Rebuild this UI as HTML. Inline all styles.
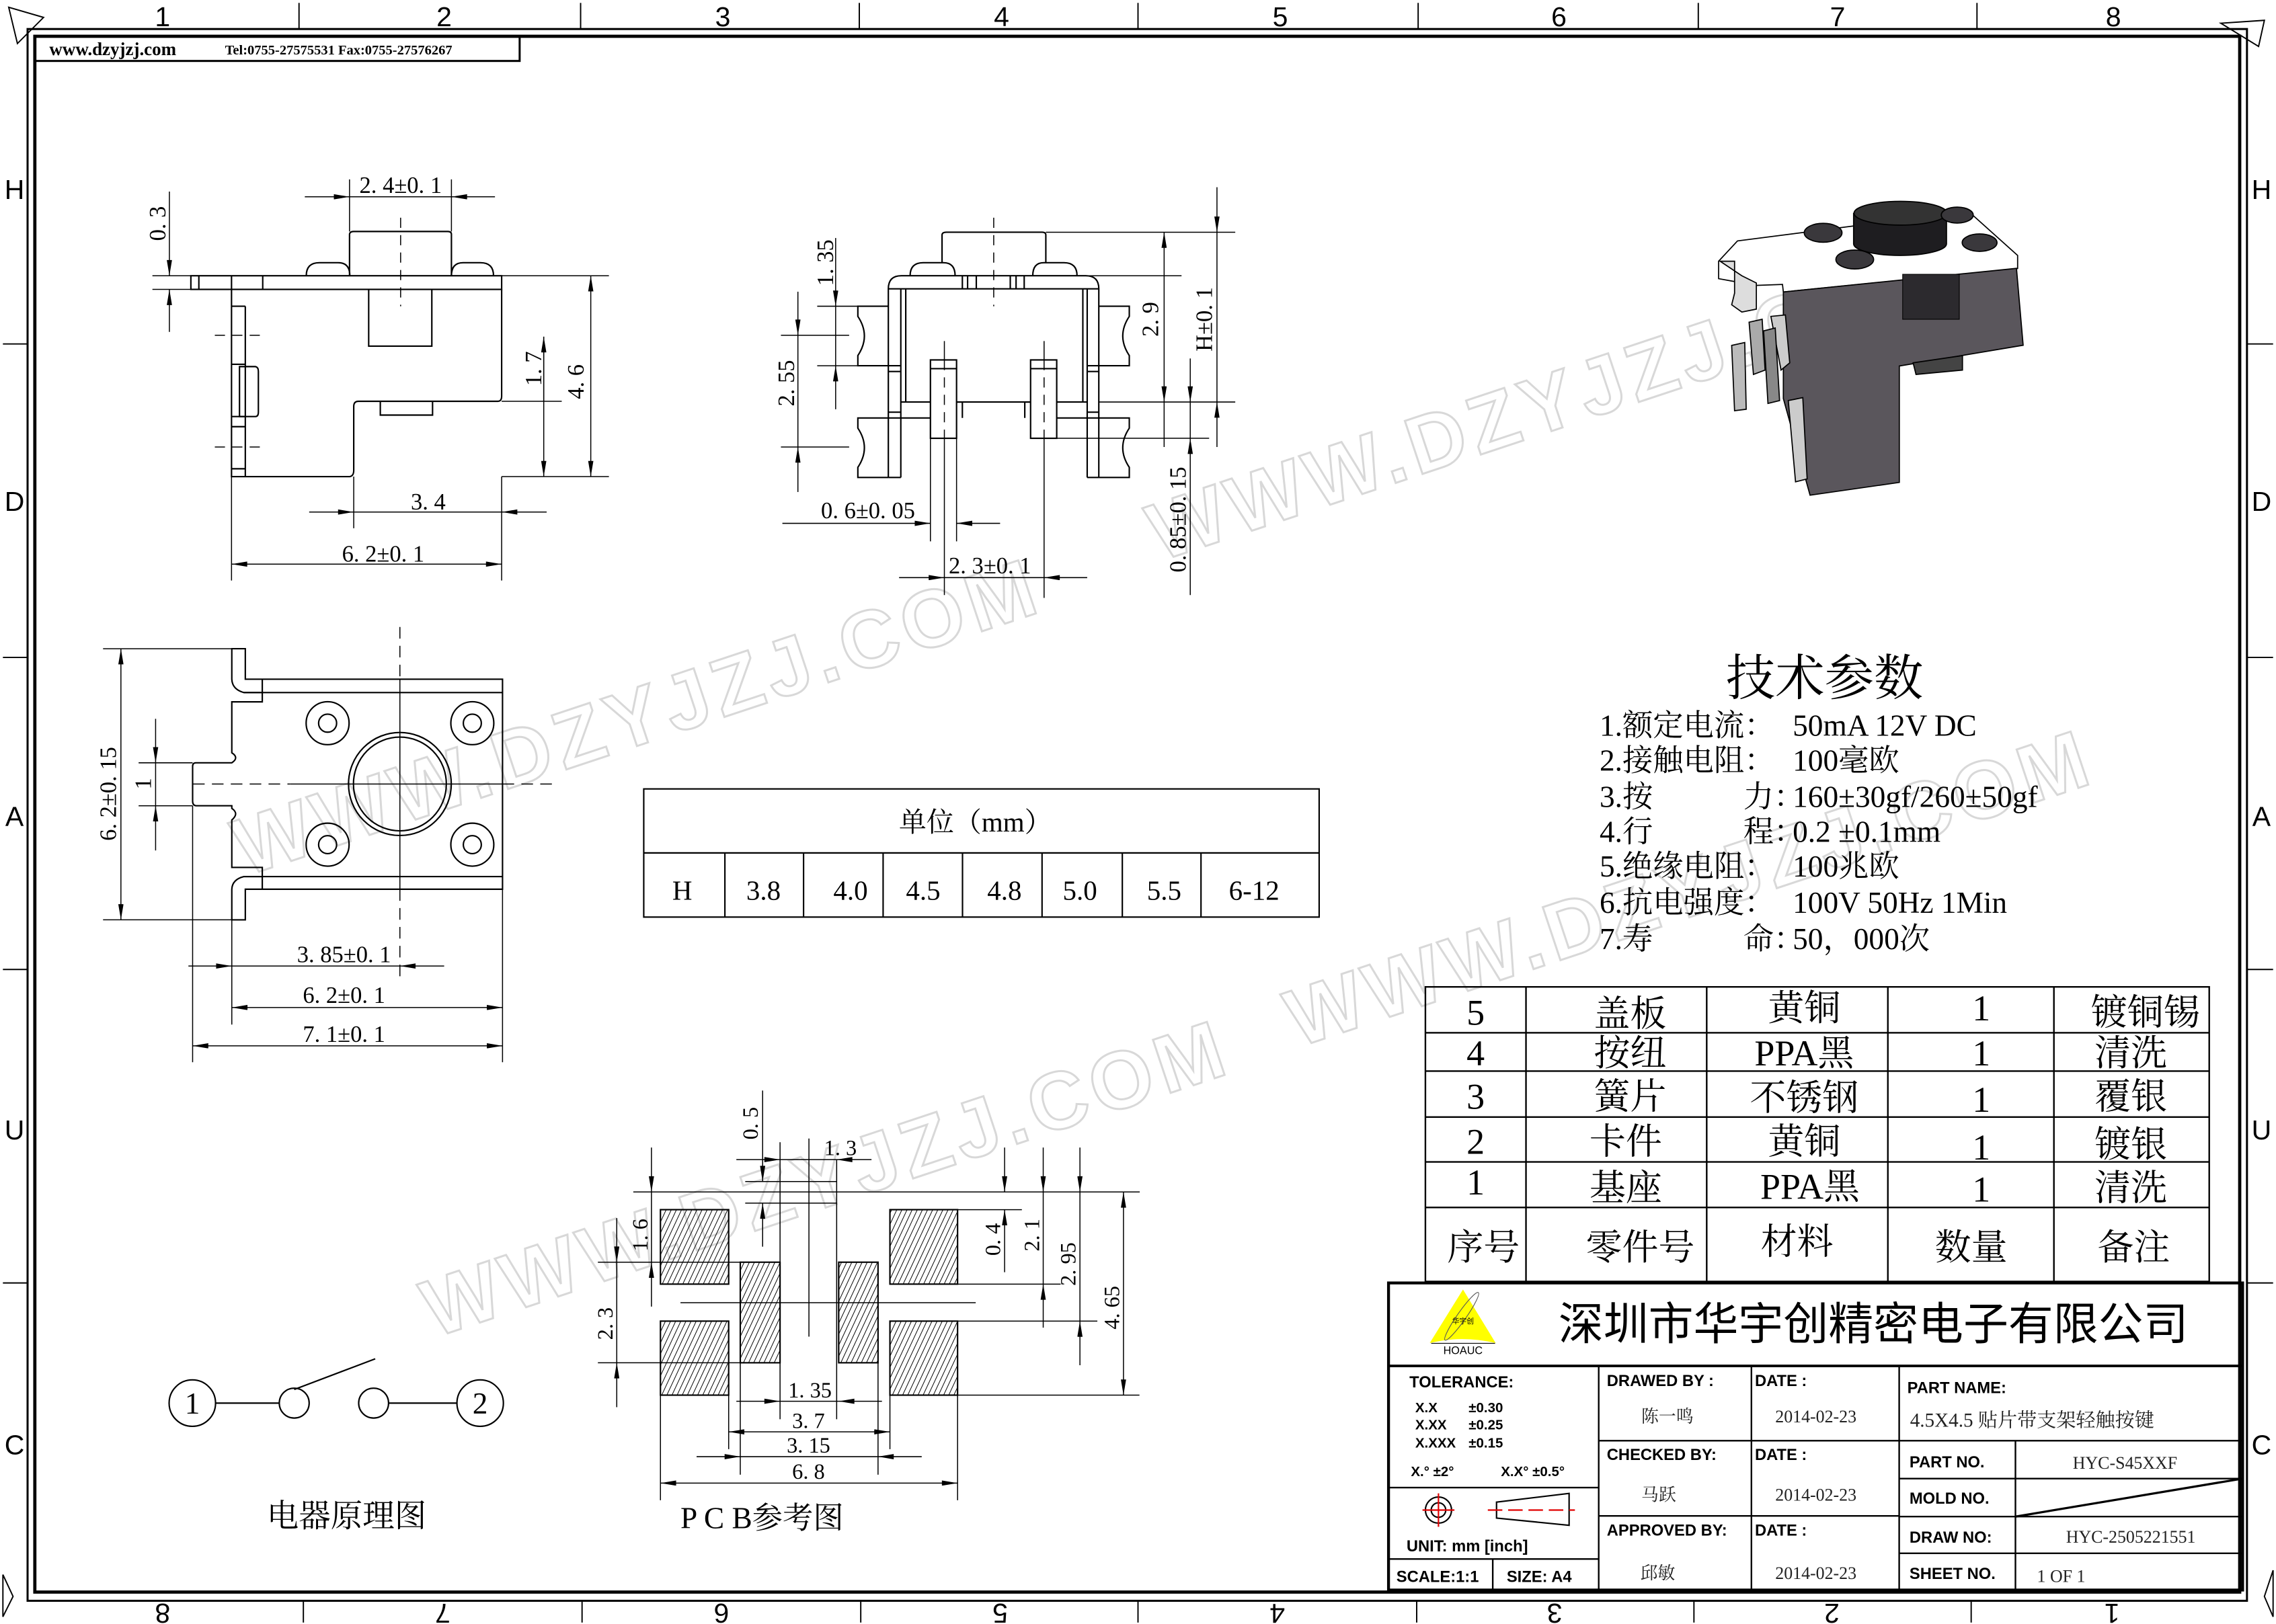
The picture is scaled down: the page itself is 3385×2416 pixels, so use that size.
<!DOCTYPE html>
<html><head><meta charset="utf-8"><style>
html,body{margin:0;padding:0;background:#fff;}
svg{display:block;}
.s{font-family:"Liberation Serif","Noto Serif CJK SC",serif;}
.a{font-family:"Liberation Sans","Noto Sans CJK SC",sans-serif;}
</style></head><body>
<svg width="3385" height="2416" viewBox="0 0 1568 1119" preserveAspectRatio="none" xmlns="http://www.w3.org/2000/svg">
<defs>
<marker id="ar" viewBox="0 0 12 4" refX="12" refY="2" markerWidth="12" markerHeight="3.6" markerUnits="userSpaceOnUse" orient="auto-start-reverse"><path d="M0,0 L12,2 L0,4 z" fill="#000"/></marker>
<pattern id="ht" patternUnits="userSpaceOnUse" width="3.2" height="3.2" patternTransform="rotate(25)"><line x1="0" y1="0" x2="0" y2="3.2" stroke="#000" stroke-width="0.9"/></pattern>
</defs>
<rect width="1568" height="1119" fill="#fff"/>

<!-- watermarks -->
<g class="a" font-size="56" font-weight="bold" fill="none" stroke="#d8d8d8" stroke-width="1.4" letter-spacing="4" text-anchor="middle">
<text transform="translate(445,512) rotate(-18.4)">WWW.DZYJZJ.COM</text>
<text transform="translate(1170,630) rotate(-18.4)">WWW.DZYJZJ.COM</text>
<text transform="translate(1075,295) rotate(-18.4)">WWW.DZYJZJ.COM</text>
<text transform="translate(575,830) rotate(-18.4)">WWW.DZYJZJ.COM</text>
</g>

<!-- frame -->
<g fill="none" stroke="#000">
<rect x="19" y="20" width="1529" height="1083" stroke-width="1.4"/>
<rect x="24" y="25" width="1519" height="1072" stroke-width="2.2"/>
</g>
<g stroke="#000" stroke-width="0.9">
<line x1="206" y1="2" x2="206" y2="20"/><line x1="400" y1="2" x2="400" y2="20"/><line x1="592" y1="2" x2="592" y2="20"/><line x1="784" y1="2" x2="784" y2="20"/><line x1="977" y1="2" x2="977" y2="20"/><line x1="1170" y1="2" x2="1170" y2="20"/><line x1="1362" y1="2" x2="1362" y2="20"/>
<line x1="209" y1="1103" x2="209" y2="1118"/><line x1="401" y1="1103" x2="401" y2="1118"/><line x1="593" y1="1103" x2="593" y2="1118"/><line x1="784" y1="1103" x2="784" y2="1118"/><line x1="976" y1="1103" x2="976" y2="1118"/><line x1="1167" y1="1103" x2="1167" y2="1118"/><line x1="1358" y1="1103" x2="1358" y2="1118"/>
<line x1="2" y1="237" x2="19" y2="237"/><line x1="2" y1="453" x2="19" y2="453"/><line x1="2" y1="668" x2="19" y2="668"/><line x1="2" y1="884" x2="19" y2="884"/>
<line x1="1548" y1="237" x2="1566" y2="237"/><line x1="1548" y1="453" x2="1566" y2="453"/><line x1="1548" y1="668" x2="1566" y2="668"/><line x1="1548" y1="884" x2="1566" y2="884"/>
</g>
<g fill="none" stroke="#000" stroke-width="0.9">
<path d="M6,5 L30,12 L12,30 z"/><path d="M1530,16 L1560,14 L1556,32 z"/>
<path d="M2,1085 L9,1100 L2,1114 z"/><path d="M1566,1082 L1560,1100 L1566,1114 z"/>
</g>
<g class="a" font-size="19" text-anchor="middle">
<text x="112" y="18">1</text><text x="306" y="18">2</text><text x="498" y="18">3</text><text x="690" y="18">4</text><text x="882" y="18">5</text><text x="1074" y="18">6</text><text x="1266" y="18">7</text><text x="1456" y="18">8</text>
<text transform="translate(112,1105) rotate(180)">8</text><text transform="translate(305,1105) rotate(180)">7</text><text transform="translate(497,1105) rotate(180)">6</text><text transform="translate(689,1105) rotate(180)">5</text><text transform="translate(880,1105) rotate(180)">4</text><text transform="translate(1071,1105) rotate(180)">3</text><text transform="translate(1262,1105) rotate(180)">2</text><text transform="translate(1455,1105) rotate(180)">1</text>
<text x="10" y="137">H</text><text x="10" y="352">D</text><text x="10" y="569">A</text><text x="10" y="785">U</text><text x="10" y="1002">C</text>
<text x="1558" y="137">H</text><text x="1558" y="352">D</text><text x="1558" y="569">A</text><text x="1558" y="785">U</text><text x="1558" y="1002">C</text>
</g>

<!-- header -->
<rect x="24" y="25" width="334" height="17" fill="none" stroke="#000" stroke-width="1.4"/>
<text x="34" y="38" class="s" font-size="12.5" font-weight="bold">www.dzyjzj.com</text>
<text x="155" y="37.5" class="s" font-size="9.5" font-weight="bold">Tel:0755-27575531  Fax:0755-27576267</text>

<!-- DRAWING 1 side view -->
<g fill="none" stroke="#000" stroke-width="1">
<rect x="131.5" y="190" width="214.1" height="9.4"/>
<line x1="137" y1="190" x2="137" y2="199.4"/><line x1="159.5" y1="190" x2="159.5" y2="199.4"/><line x1="181" y1="190" x2="181" y2="199.4"/>
<path d="M240.8,190 V161.5 Q241,159.5 243.5,159.5 H308.5 Q311,159.5 311,161.5 V190"/>
<path d="M211,190 Q211,181 220,181 H233 Q241,181 241,190 M311,190 Q311,181 319,181 H331 Q340,181 340,190"/>
<path d="M254,199.4 V238.5 H297.5 V199.4"/>
<path d="M159.5,199.4 V328.4 H241 Q243.7,328 243.7,324 V280 Q243.7,276.5 247,276.5 H343 Q345.6,276.5 345.6,273 V199.4"/>
<line x1="169" y1="211" x2="169" y2="328.4"/>
<path d="M159.5,211 H169 M159.5,251 H169 M159.5,287 H169 M159.5,294 H169 M159.5,323 H169"/>
<path d="M165,252.6 H176 Q178,253 178,256 V284 Q178,287 176,287 H165 z"/>
<path d="M262,276.5 V286 H298 V276.5"/>
</g>
<g stroke="#000" stroke-width="0.7" fill="none">
<path d="M148,231 H182 M148,308 H182 M276,150 V211" stroke-dasharray="7,5"/>
<path d="M105,190 H131.5 M105,199.4 H131.5 M345.6,190 H419.5 M345.6,328.4 H419.5 M345.6,276.5 H387 M240.8,123.6 V159.5 M311,123.6 V159.5 M159.5,328.4 V400 M345.6,328.4 V400 M243.7,328.4 V364"/>
<line x1="210" y1="135.6" x2="240.8" y2="135.6" marker-end="url(#ar)"/><line x1="341" y1="135.6" x2="311" y2="135.6" marker-end="url(#ar)"/><line x1="240.8" y1="135.6" x2="311" y2="135.6"/>
<line x1="116.7" y1="132" x2="116.7" y2="190" marker-end="url(#ar)"/><line x1="116.7" y1="228.7" x2="116.7" y2="199.4" marker-end="url(#ar)"/>
<line x1="374.6" y1="232" x2="374.6" y2="328.4" marker-start="url(#ar)" marker-end="url(#ar)"/>
<line x1="374.6" y1="276.5" x2="374.6" y2="232"/>
<line x1="407" y1="190" x2="407" y2="328.4" marker-start="url(#ar)" marker-end="url(#ar)"/>
<line x1="213" y1="352.8" x2="243.7" y2="352.8" marker-end="url(#ar)"/><line x1="376.6" y1="352.8" x2="345.6" y2="352.8" marker-end="url(#ar)"/><line x1="243.7" y1="352.8" x2="345.6" y2="352.8"/>
<line x1="159.5" y1="388.7" x2="345.6" y2="388.7" marker-start="url(#ar)" marker-end="url(#ar)"/>
</g>
<g class="s" font-size="16" text-anchor="middle">
<text x="276" y="133">2. 4±0. 1</text>
<text transform="translate(114,154) rotate(-90)">0. 3</text>
<text transform="translate(373,254) rotate(-90)">1. 7</text>
<text transform="translate(402,263) rotate(-90)">4. 6</text>
<text x="295" y="351">3. 4</text>
<text x="264" y="387">6. 2±0. 1</text>
</g>

<!-- DRAWING 2 front view -->
<g fill="none" stroke="#000" stroke-width="1">
<path d="M649,181 V162 Q649,160 652,160 H718 Q720.5,160 720.5,162 V181"/>
<path d="M627,190 Q627,181 636,181 H650 Q658,181 658,190 M711.5,190 Q711.5,181 719,181 H733 Q742,181 742,190"/>
<path d="M612,329 V199 Q612,190 621,190 H748 Q757,190 757,199 V329"/>
<line x1="612" y1="199" x2="757" y2="199"/>
<path d="M663,190 V199 M666.6,190 V199 M672.6,190 V199 M696,190 V199 M700,190 V199 M705.6,190 V199"/>
<path d="M620.6,199 V329 M624,199 V277 M746,199 V277 M749,199 V329"/>
<path d="M620.6,277 H749 M612,288 H641 M728,288 H757 M612,329 H620.6 M749,329 H757 M612,252 H620.6 M612,256 H620.6 M749,252 H757 M749,256 H757 M612,284 H620.6 M749,284 H757"/>
<path d="M612,211 H591 V218 Q600,231.5 591,245 V252 H612 M612,288 H591 V295 Q600,308.5 591,322 V329 H612"/>
<path d="M757,211 H778 V218 Q769,231.5 778,245 V252 H757 M757,288 H778 V295 Q769,308.5 778,322 V329 H757"/>
<rect x="641" y="248" width="18" height="54" fill="#fff"/><rect x="710" y="248" width="18" height="54" fill="#fff"/>
<path d="M641,254 H659 M710,254 H728 M659,277 H663 V288 M710,277 H706 V288"/>
</g>
<g stroke="#000" stroke-width="0.7" fill="none">
<path d="M684.6,150 V211 M650.6,248 V302 M719.3,248 V302" stroke-dasharray="7,5"/>
<path d="M650.6,235 V248 M650.6,302 V410 M719.3,235 V248 M719.3,302 V412 M641,302 V373 M659,302 V373"/>
<path d="M563,211 H612 M563,252 H612 M538,231 H585 M538,308 H585 M720.5,160 H851 M742,190 H814 M757,277 H851 M728,302 H833"/>
<line x1="575.7" y1="164" x2="575.7" y2="211" marker-end="url(#ar)"/><line x1="575.7" y1="282" x2="575.7" y2="252" marker-end="url(#ar)"/><line x1="575.7" y1="211" x2="575.7" y2="252"/>
<line x1="549.7" y1="201" x2="549.7" y2="231" marker-end="url(#ar)"/><line x1="549.7" y1="339" x2="549.7" y2="308" marker-end="url(#ar)"/><line x1="549.7" y1="231" x2="549.7" y2="308"/>
<line x1="802" y1="160" x2="802" y2="277" marker-start="url(#ar)" marker-end="url(#ar)"/><line x1="802" y1="277" x2="802" y2="308"/>
<line x1="838.4" y1="129" x2="838.4" y2="160" marker-end="url(#ar)"/><line x1="838.4" y1="308" x2="838.4" y2="277" marker-end="url(#ar)"/><line x1="838.4" y1="160" x2="838.4" y2="277"/>
<line x1="820" y1="247" x2="820" y2="277" marker-end="url(#ar)"/><line x1="820" y1="410" x2="820" y2="302" marker-end="url(#ar)"/><line x1="820" y1="277" x2="820" y2="302"/>
<line x1="539" y1="360.6" x2="641" y2="360.6" marker-end="url(#ar)"/><line x1="689" y1="360.6" x2="659" y2="360.6" marker-end="url(#ar)"/>
<line x1="619.4" y1="398" x2="650.6" y2="398" marker-end="url(#ar)"/><line x1="749" y1="398" x2="719.3" y2="398" marker-end="url(#ar)"/><line x1="650.6" y1="398" x2="719.3" y2="398"/>
</g>
<g class="s" font-size="16" text-anchor="middle">
<text transform="translate(574,181) rotate(-90)">1. 35</text>
<text transform="translate(547,264) rotate(-90)">2. 55</text>
<text transform="translate(798,220) rotate(-90)">2. 9</text>
<text transform="translate(835,220) rotate(-90)">H±0. 1</text>
<text transform="translate(817,358) rotate(-90)">0. 85±0. 15</text>
<text x="598" y="357">0. 6±0. 05</text>
<text x="682" y="395">2. 3±0. 1</text>
</g>

<!-- 3D picture -->
<g stroke="#000" stroke-width="0.8">
<path d="M1184,180 L1197,166 L1356,145.5 L1390,176 L1390,185 L1228.6,201.2 L1228,196 L1200,197 L1195,194 L1184,192 z" fill="#fff"/>
<path d="M1228.6,201.2 L1389.2,184.9 L1393.8,237.9 L1308.5,252.2 L1308.5,332.4 L1247,341.2 L1228.6,274.6 z" fill="#5a565c"/>
<rect x="1310.8" y="189" width="39" height="31" fill="#2c2a2e" stroke-width="0.5"/>
<path d="M1277,147 V168 A32,8 0 0 0 1341,168 V147 z" fill="#1e1d20"/>
<ellipse cx="1309.3" cy="146.9" rx="32" ry="8.2" fill="#333"/>
<ellipse cx="1256" cy="160.4" rx="13" ry="6.5" fill="#3a383c"/>
<ellipse cx="1277.8" cy="178.8" rx="13" ry="6.5" fill="#3a383c"/>
<ellipse cx="1348.4" cy="148.2" rx="11" ry="5.5" fill="#3a383c"/>
<ellipse cx="1363.8" cy="167.2" rx="12" ry="6" fill="#3a383c"/>
<path d="M1185,180 L1195,180 L1195,202 L1193,210 L1200,215 L1210,213 L1210,195 L1200,190 z" fill="#ddd"/>
<path d="M1205,222 L1214,220 L1216,255 L1208,258 z" fill="#aaa"/>
<path d="M1193,238 L1202,236 L1203,282 L1195,283 z" fill="#bbb"/>
<path d="M1220,218 L1230,217 L1233,250 L1227,255 z" fill="#ccc"/>
<path d="M1215,228 L1223,226 L1226,276 L1218,278 z" fill="#888"/>
<path d="M1232,276 L1242,274 L1245,330 L1237,332 z" fill="#ccc"/>
<path d="M1318,250 L1352,245 L1352,255 L1320,258 z" fill="#444"/>
</g>

<!-- DRAWING 3 bottom view -->
<g fill="none" stroke="#000" stroke-width="1">
<path d="M159.7,447 H169 V468 H346.2 V612.7 H169 V633.8 H159.7 V612.7 Q160,606 168,604 H180.7 V597.7 H159.7 V565 Q165,560.6 159.7,557 V555.2 H135 Q132.7,555 132.7,552 V528 Q132.7,525.6 135,525.6 H159.7 Q165,522 159.7,518.7 V483.6 H180.7 V477.2 H168 Q160,475 159.7,468 z"/>
<path d="M168,477.2 H346.2 M168,604 H346.2 M180.7,468 V477.2 M180.7,604 V612.7"/>
<ellipse cx="275.5" cy="540.2" rx="35.4" ry="35.5"/>
<ellipse cx="275.5" cy="540.2" rx="32" ry="32.3"/>
<circle cx="225.7" cy="498.3" r="14.8"/><circle cx="225.7" cy="498.3" r="6.2"/>
<circle cx="325.4" cy="498.3" r="14.8"/><circle cx="325.4" cy="498.3" r="6.2"/>
<circle cx="225.7" cy="582" r="14.8"/><circle cx="225.7" cy="582" r="6.2"/>
<circle cx="325.4" cy="582" r="14.8"/><circle cx="325.4" cy="582" r="6.2"/>
</g>
<g stroke="#000" stroke-width="0.7" fill="none">
<path d="M133,540.2 H200 M346.2,540.2 H383.4 M275.5,432 V468 M275.5,612.7 V677.6" stroke-dasharray="8,5"/>
<path d="M200,540.2 H346.2 M275.5,468 V612.7"/>
<path d="M71,447 H159.7 M71,633.8 H159.7 M95.5,525.6 H132.7 M95.5,555.2 H132.7 M132.7,555.2 V731.9 M159.7,633.8 V706 M346.2,612.7 V731.9"/>
<line x1="83.3" y1="447" x2="83.3" y2="633.8" marker-start="url(#ar)" marker-end="url(#ar)"/>
<line x1="107.2" y1="495.3" x2="107.2" y2="525.6" marker-end="url(#ar)"/><line x1="107.2" y1="586" x2="107.2" y2="555.2" marker-end="url(#ar)"/><line x1="107.2" y1="525.6" x2="107.2" y2="555.2"/>
<line x1="129.8" y1="665.6" x2="159.7" y2="665.6" marker-end="url(#ar)"/><line x1="306" y1="665.6" x2="275.5" y2="665.6" marker-end="url(#ar)"/><line x1="159.7" y1="665.6" x2="275.5" y2="665.6"/>
<line x1="159.7" y1="694.2" x2="346.2" y2="694.2" marker-start="url(#ar)" marker-end="url(#ar)"/>
<line x1="132.7" y1="720.6" x2="346.2" y2="720.6" marker-start="url(#ar)" marker-end="url(#ar)"/>
</g>
<g class="s" font-size="16" text-anchor="middle">
<text transform="translate(80,547) rotate(-90)">6. 2±0. 15</text>
<text transform="translate(104,540) rotate(-90)">1</text>
<text x="237" y="663">3. 85±0. 1</text>
<text x="237" y="691">6. 2±0. 1</text>
<text x="237" y="718">7. 1±0. 1</text>
</g>

<!-- unit table -->
<g fill="none" stroke="#000" stroke-width="1">
<rect x="443.5" y="543.6" width="465.3" height="88.3"/>
<line x1="443.5" y1="587.7" x2="908.8" y2="587.7"/>
<path d="M499.4,587.7 V631.9 M553.6,587.7 V631.9 M608.4,587.7 V631.9 M663.1,587.7 V631.9 M717.9,587.7 V631.9 M773.2,587.7 V631.9 M827.4,587.7 V631.9"/>
</g>
<g class="s" font-size="19" text-anchor="middle">
<text x="672" y="573">单位（mm）</text>
<text x="470" y="620">H</text><text x="526" y="620">3.8</text><text x="586" y="620">4.0</text><text x="636" y="620">4.5</text><text x="692" y="620">4.8</text><text x="744" y="620">5.0</text><text x="802" y="620">5.5</text><text x="864" y="620">6-12</text>
</g>

<!-- tech params -->
<g class="s">
<text x="1257" y="479" font-size="34" text-anchor="middle">技术参数</text>
<g font-size="21">
<text x="1102" y="507">1.额定电流：</text><text x="1235" y="507">50mA  12V DC</text>
<text x="1102" y="531">2.接触电阻：</text><text x="1235" y="531">100毫欧</text>
<text x="1102" y="556">3.按</text><text x="1201" y="556">力：</text><text x="1235" y="556">160±30gf/260±50gf</text>
<text x="1102" y="580">4.行</text><text x="1201" y="580">程：</text><text x="1235" y="580">0.2 ±0.1mm</text>
<text x="1102" y="604">5.绝缘电阻：</text><text x="1235" y="604">100兆欧</text>
<text x="1102" y="629">6.抗电强度：</text><text x="1235" y="629">100V 50Hz 1Min</text>
<text x="1102" y="654">7.寿</text><text x="1201" y="654">命：</text><text x="1235" y="654">50，000次</text>
</g></g>

<!-- BOM -->
<g fill="none" stroke="#000" stroke-width="1.1">
<rect x="982" y="680" width="540" height="203"/>
<path d="M982,711.6 H1522 M982,738 H1522 M982,769.7 H1522 M982,800.6 H1522 M982,832 H1522"/>
<path d="M1051.3,680 V883 M1175.8,680 V883 M1300.6,680 V883 M1415,680 V883"/>
</g>
<g class="s" font-size="25" text-anchor="middle">
<text x="1016.6" y="706">5</text><text x="1123" y="707">盖板</text><text x="1243" y="703">黄铜</text><text x="1365" y="703">1</text><text x="1478" y="706">镀铜锡</text>
<text x="1016.6" y="734">4</text><text x="1123" y="734">按纽</text><text x="1243" y="734">PPA黑</text><text x="1365" y="734">1</text><text x="1468" y="734">清洗</text>
<text x="1016.6" y="764">3</text><text x="1123" y="764">簧片</text><text x="1243" y="765">不锈钢</text><text x="1365" y="766">1</text><text x="1468" y="764">覆银</text>
<text x="1016.6" y="795">2</text><text x="1120" y="795">卡件</text><text x="1243" y="795">黄铜</text><text x="1365" y="799">1</text><text x="1468" y="797">镀银</text>
<text x="1016.6" y="823">1</text><text x="1120" y="827">基座</text><text x="1247" y="826">PPA黑</text><text x="1365" y="828">1</text><text x="1468" y="827">清洗</text>
<text x="1022" y="868">序号</text><text x="1130" y="868">零件号</text><text x="1238" y="864">材料</text><text x="1358" y="868">数量</text><text x="1470" y="868">备注</text>
</g>

<!-- title block -->
<g fill="none" stroke="#000">
<rect x="956.6" y="884" width="588.4" height="211.6" stroke-width="2"/>
<line x1="956.6" y1="941.2" x2="1545" y2="941.2" stroke-width="1.8"/>
<g stroke-width="1.1">
<path d="M1101.4,941.2 V1095.6 M1206.6,941.2 V1095.6 M1308.4,941.2 V1095.6 M1388.5,992.7 V1095.6"/>
<path d="M1101.4,992.7 H1308.4 M1101.4,1044.5 H1308.4 M956.6,1025 H1101.4 M956.6,1074.2 H1101.4 M1028.4,1074.2 V1095.6"/>
<path d="M1308.4,992.7 H1545 M1308.4,1018.8 H1545 M1308.4,1045 H1545 M1308.4,1070.3 H1545"/>
<line x1="1388.5" y1="1045" x2="1545" y2="1018.8" stroke-width="1.5"/>
</g></g>
<path d="M1007.9,888.5 L985,925.4 Q1007,920 1030.4,925.4 z" fill="#ffff00"/>
<ellipse cx="1007" cy="907" rx="20" ry="3" transform="rotate(-55 1007 907)" fill="none" stroke="#555" stroke-width="0.5"/>
<text x="1007.9" y="912" font-size="5" text-anchor="middle" class="a">华宇创</text>
<line x1="986" y1="925.6" x2="1030" y2="925.6" stroke="#000" stroke-width="0.5"/>
<text x="1007.9" y="933" font-size="7.5" text-anchor="middle" class="a">HOAUC</text>
<text x="1290.6" y="923" font-size="31" text-anchor="middle" class="a">深圳市华宇创精密电子有限公司</text>
<g class="a" font-size="11" font-weight="bold">
<text x="971" y="956">TOLERANCE:</text>
<text x="975" y="973" font-size="9.5">X.X</text><text x="1011.8" y="973" font-size="9.5">±0.30</text>
<text x="975" y="985" font-size="9.5">X.XX</text><text x="1011.8" y="985" font-size="9.5">±0.25</text>
<text x="975" y="997.5" font-size="9.5">X.XXX</text><text x="1011.8" y="997.5" font-size="9.5">±0.15</text>
<text x="972" y="1017" font-size="9.5">X.° ±2°</text><text x="1034" y="1017" font-size="9.5">X.X° ±0.5°</text>
<text x="969" y="1069">UNIT:  mm  [inch]</text>
<text x="962" y="1090">SCALE:1:1</text><text x="1038" y="1090">SIZE:  A4</text>
<text x="1107" y="955">DRAWED  BY :</text><text x="1209" y="955">DATE :</text>
<text x="1107" y="1006">CHECKED  BY:</text><text x="1209" y="1006">DATE :</text>
<text x="1107" y="1058">APPROVED  BY:</text><text x="1209" y="1058">DATE :</text>
<text x="1314" y="960">PART  NAME:</text>
<text x="1315.5" y="1011">PART  NO.</text>
<text x="1315.5" y="1036">MOLD  NO.</text>
<text x="1315.5" y="1063">DRAW  NO:</text>
<text x="1315.5" y="1088">SHEET  NO.</text>
</g>
<g stroke-width="1" fill="none">
<circle cx="991" cy="1040.5" r="9" stroke="#000"/><circle cx="991" cy="1040.5" r="5" stroke="#000"/>
<path d="M980,1040.5 H1002 M991,1029 V1052" stroke="#e00000"/>
<path d="M1031,1035 L1081,1029 V1051 L1031,1046 z" stroke="#000"/>
<path d="M1025,1040.5 H1085" stroke="#e00000" stroke-dasharray="10,4"/>
</g>
<g class="s" font-size="12" text-anchor="middle" fill="#222">
<text x="1148.7" y="980">陈一鸣</text><text x="1251" y="980">2014-02-23</text>
<text x="1142.7" y="1034">马跃</text><text x="1251" y="1034">2014-02-23</text>
<text x="1142" y="1088">邱敏</text><text x="1251" y="1088">2014-02-23</text>
<text x="1400" y="983" font-size="13.5">4.5X4.5 贴片带支架轻触按键</text>
<text x="1464" y="1012">HYC-S45XXF</text>
<text x="1468" y="1063">HYC-2505221551</text>
<text x="1420" y="1090" text-anchor="middle">1 OF 1</text>
</g>

<!-- PCB -->
<g stroke="#000" stroke-width="1" fill="url(#ht)">
<rect x="455" y="833.5" width="47" height="51.3"/>
<rect x="455" y="910.3" width="47" height="51"/>
<rect x="510" y="869.7" width="27.4" height="69.3"/>
<rect x="577.8" y="869.7" width="27.1" height="69.3"/>
<rect x="613.1" y="833.5" width="46.6" height="51.3"/>
<rect x="613.1" y="910.3" width="46.6" height="51"/>
</g>
<g stroke="#000" stroke-width="0.7" fill="none">
<path d="M468.8,897.6 H672.2 M557.3,784.5 V921 M436.3,821.3 H785.2 M513.4,814.1 H576.4 M513.4,829 H576.4"/>
<path d="M537.4,787 V977.9 M576.4,799 V977.9 M411.9,869.7 H510 M411.9,939 H510"/>
<path d="M659.7,833.5 H704 M659.7,884.8 H730.7 M659.7,910.3 H756 M659.7,961.3 H785"/>
<path d="M502,961.3 V998.5 M613.1,961.3 V998.5 M510,939 V1016.1 M604.9,939 V1016.1 M455,961.3 V1033.7 M659.7,961.3 V1033.7"/>
<line x1="525.4" y1="751.4" x2="525.4" y2="814.1" marker-end="url(#ar)"/><line x1="525.4" y1="859" x2="525.4" y2="829" marker-end="url(#ar)"/>
<line x1="507.3" y1="799" x2="537.4" y2="799" marker-end="url(#ar)"/><line x1="600.4" y1="799" x2="576.4" y2="799" marker-end="url(#ar)"/><line x1="537.4" y1="799" x2="576.4" y2="799"/>
<line x1="448.8" y1="790.7" x2="448.8" y2="821.3" marker-end="url(#ar)"/><line x1="448.8" y1="900.3" x2="448.8" y2="869.7" marker-end="url(#ar)"/><line x1="448.8" y1="821.3" x2="448.8" y2="869.7"/>
<line x1="424.9" y1="839.3" x2="424.9" y2="869.7" marker-end="url(#ar)"/><line x1="424.9" y1="969.6" x2="424.9" y2="939" marker-end="url(#ar)"/><line x1="424.9" y1="869.7" x2="424.9" y2="939"/>
<line x1="692.1" y1="790.7" x2="692.1" y2="821.3" marker-end="url(#ar)"/><line x1="692.1" y1="876.6" x2="692.1" y2="833.5" marker-end="url(#ar)"/>
<line x1="718.7" y1="790.7" x2="718.7" y2="821.3" marker-end="url(#ar)"/><line x1="718.7" y1="914.8" x2="718.7" y2="884.8" marker-end="url(#ar)"/><line x1="718.7" y1="821.3" x2="718.7" y2="884.8"/>
<line x1="744" y1="790.7" x2="744" y2="821.3" marker-end="url(#ar)"/><line x1="744" y1="940.7" x2="744" y2="910.3" marker-end="url(#ar)"/><line x1="744" y1="821.3" x2="744" y2="910.3"/>
<line x1="774" y1="821.3" x2="774" y2="961.3" marker-start="url(#ar)" marker-end="url(#ar)"/>
<line x1="507.3" y1="965.5" x2="537.4" y2="965.5" marker-end="url(#ar)"/><line x1="607.6" y1="965.5" x2="577.8" y2="965.5" marker-end="url(#ar)"/><line x1="537.4" y1="965.5" x2="577.8" y2="965.5"/>
<line x1="502" y1="986.6" x2="613.1" y2="986.6" marker-start="url(#ar)" marker-end="url(#ar)"/>
<line x1="479.9" y1="1003.7" x2="510" y2="1003.7" marker-end="url(#ar)"/><line x1="635" y1="1003.7" x2="604.9" y2="1003.7" marker-end="url(#ar)"/><line x1="510" y1="1003.7" x2="604.9" y2="1003.7"/>
<line x1="455" y1="1021.9" x2="659.7" y2="1021.9" marker-start="url(#ar)" marker-end="url(#ar)"/>
</g>
<g class="s" font-size="15" text-anchor="middle">
<text transform="translate(522,774) rotate(-90)">0. 5</text>
<text x="579" y="796">1. 3</text>
<text transform="translate(446,851) rotate(-90)">1. 6</text>
<text transform="translate(422,912) rotate(-90)">2. 3</text>
<text transform="translate(689,854) rotate(-90)">0. 4</text>
<text transform="translate(716,851) rotate(-90)">2. 1</text>
<text transform="translate(741,871) rotate(-90)">2. 95</text>
<text transform="translate(771,901) rotate(-90)">4. 65</text>
<text x="558" y="963">1. 35</text>
<text x="557" y="984">3. 7</text>
<text x="557" y="1001">3. 15</text>
<text x="557" y="1019">6. 8</text>
<text x="468.8" y="1053" font-size="21" text-anchor="start">P  C  B参考图</text>
</g>

<!-- schematic -->
<g fill="none" stroke="#000" stroke-width="1">
<circle cx="132.5" cy="966.8" r="16"/><circle cx="202.7" cy="966.8" r="10.3"/><circle cx="257.4" cy="966.8" r="10.3"/><circle cx="330.8" cy="966.8" r="16"/>
<path d="M148.5,966.8 H192.4 M267.7,966.8 H314.8 M202.7,957.4 L258.5,936.3"/>
</g>
<g class="s" text-anchor="middle">
<text x="132.5" y="974" font-size="21">1</text><text x="330.8" y="974" font-size="21">2</text>
<text x="238.8" y="1052" font-size="22">电器原理图</text>
</g>
</svg>
</body></html>
